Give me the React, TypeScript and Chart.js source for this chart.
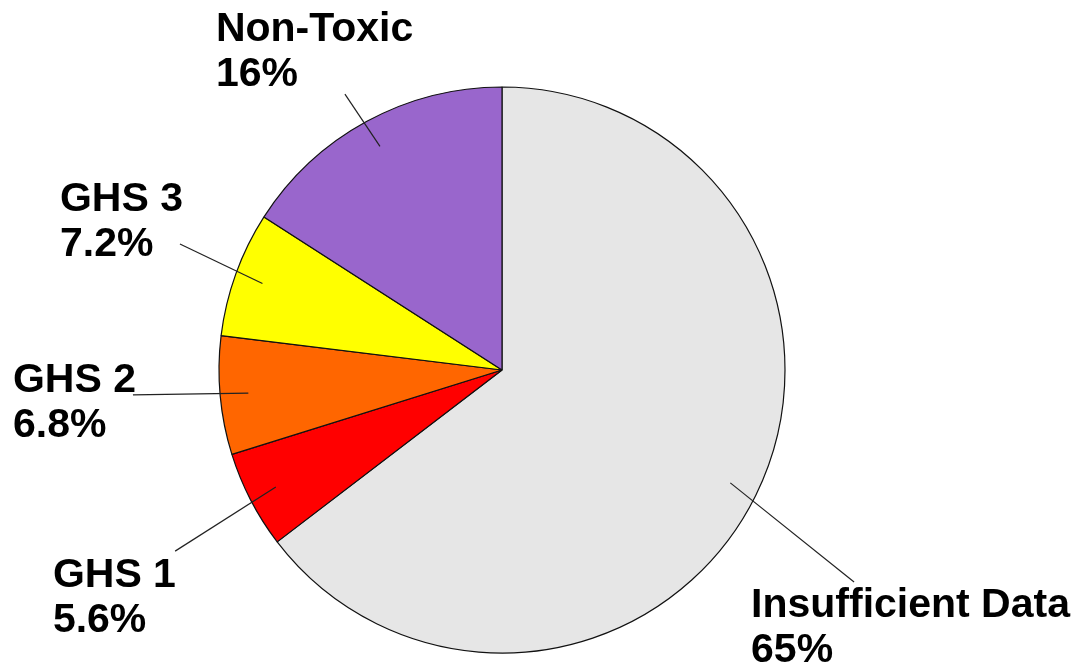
import React, { useEffect, useRef } from "react";
import { Chart, registerables } from "chart.js";

Chart.register(...registerables);

const categories = ["Insufficient Data", "GHS 1", "GHS 2", "GHS 3", "Non-Toxic"];
const values = [65, 5.6, 6.8, 7.2, 16];
const percentLabels = ["65%", "5.6%", "6.8%", "7.2%", "16%"];
const sliceColors = ["#E6E6E6", "#FF0000", "#FF6600", "#FFFF00", "#9966CC"];

// leader line outer end (relative to centre, in radius units) and text anchor (left, first baseline; radius units)
const labelLayout = [
  { ox: 1.244, oy: 0.749, tx: 0.88, ty: 0.873 },
  { ox: -1.155, oy: 0.64, tx: -1.587, ty: 0.767 },
  { ox: -1.304, oy: 0.088, tx: -1.728, ty: 0.078 },
  { ox: -1.138, oy: -0.445, tx: -1.562, ty: -0.562 },
  { ox: -0.555, oy: -0.975, tx: -1.011, ty: -1.163 },
];

const labelPlugin = {
  id: "pieLabels",
  afterDraw(chart: any) {
    const ctx = chart.ctx;
    const meta = chart.getDatasetMeta(0);
    ctx.save();
    meta.data.forEach((arc: any, i: number) => {
      const { x, y, startAngle, endAngle, outerRadius } = arc.getProps(
        ["x", "y", "startAngle", "endAngle", "outerRadius"],
        true
      );
      const r = outerRadius;
      const mid = (startAngle + endAngle) / 2;
      const lay = labelLayout[i];
      const x1 = x + Math.cos(mid) * r * 0.9;
      const y1 = y + Math.sin(mid) * r * 0.9;
      const x2 = x + lay.ox * r;
      const y2 = y + lay.oy * r;
      ctx.strokeStyle = "#222";
      ctx.lineWidth = 1.2;
      ctx.beginPath();
      ctx.moveTo(x1, y1);
      ctx.lineTo(x2, y2);
      ctx.stroke();
      ctx.fillStyle = "#000";
      ctx.font = 'bold 41px "Liberation Sans", Arial, sans-serif';
      ctx.textAlign = "left";
      ctx.textBaseline = "alphabetic";
      const tx = x + lay.tx * r;
      const ty = y + lay.ty * r;
      ctx.fillText(categories[i], tx, ty);
      ctx.fillText(percentLabels[i], tx, ty + 45);
    });
    ctx.restore();
  },
};

export default function App() {
  const ref = useRef<HTMLCanvasElement | null>(null);
  useEffect(() => {
    if (!ref.current) return;
    const chart = new Chart(ref.current, {
      type: "pie",
      data: {
        labels: categories,
        datasets: [
          {
            data: values,
            backgroundColor: sliceColors,
            borderColor: "#111",
            borderWidth: 1.2,
            radius: 283,
          } as any,
        ],
      },
      options: {
        responsive: false,
        animation: false,
        layout: { padding: { top: 73, right: 67, left: 0, bottom: 0 } },
        plugins: {
          legend: { display: false },
          tooltip: { enabled: false },
        },
      },
      plugins: [labelPlugin],
    });
    return () => chart.destroy();
  }, []);
  return (
    <div style={{ position: "fixed", left: 0, top: 0, width: 1071, height: 667, background: "#fff" }}>
      <canvas ref={ref} width={1071} height={667} style={{ width: 1071, height: 667, display: "block" }} />
    </div>
  );
}
